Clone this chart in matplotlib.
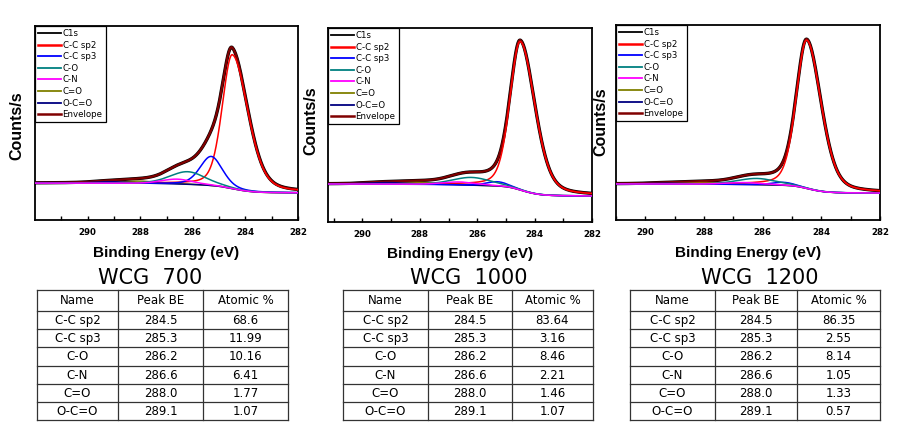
import numpy as np
import matplotlib
matplotlib.use("Agg")
import matplotlib.pyplot as plt
from matplotlib.lines import Line2D

W, H = 901, 432

# ---------------- data ----------------
samples = ["WCG  700", "WCG  1000", "WCG  1200"]
components = ["C-C sp2", "C-C sp3", "C-O", "C-N", "C=O", "O-C=O"]
peak_be = [284.5, 285.3, 286.2, 286.6, 288.0, 289.1]
peak_be_text = ["284.5", "285.3", "286.2", "286.6", "288.0", "289.1"]
atomic_700 = ["68.6", "11.99", "10.16", "6.41", "1.77", "1.07"]
atomic_1000 = ["83.64", "3.16", "8.46", "2.21", "1.46", "1.07"]
atomic_1200 = ["86.35", "2.55", "8.14", "1.05", "1.33", "0.57"]
table_header = ["Name", "Peak BE", "Atomic %"]
legend_labels = ["C1s", "C-C sp2", "C-C sp3", "C-O", "C-N", "C=O", "O-C=O", "Envelope"]
xticks = [290, 288, 286, 284, 282]

# fitted component heights above background (fraction of axis height)
height_700 = [0.69, 0.15, 0.065, 0.025, 0.012, 0.008]
height_1000 = [0.765, 0.022, 0.04, 0.015, 0.01, 0.008]
height_1200 = [0.76, 0.015, 0.032, 0.01, 0.008, 0.005]
# half widths (eV): high-BE side / low-BE side
hw_high_700 = [0.45, 0.5, 0.8, 0.7, 0.8, 0.8]
hw_low_700 = [0.7, 0.5, 0.8, 0.7, 0.8, 0.8]
hw_high_1000 = [0.42, 0.45, 0.8, 0.7, 0.8, 0.8]
hw_low_1000 = [0.6, 0.45, 0.8, 0.7, 0.8, 0.8]
hw_high_1200 = [0.42, 0.45, 0.8, 0.7, 0.8, 0.8]
hw_low_1200 = [0.58, 0.45, 0.8, 0.7, 0.8, 0.8]
bg_high = [0.19, 0.196, 0.185]
bg_low = [0.14, 0.134, 0.138]
xlims = [(292, 282), (291.2, 282), (291, 282)]

heights = [height_700, height_1000, height_1200]
hw_high = [hw_high_700, hw_high_1000, hw_high_1200]
hw_low = [hw_low_700, hw_low_1000, hw_low_1200]
atomics = [atomic_700, atomic_1000, atomic_1200]

colors = ["#000000", "#ff0000", "#0000ff", "#008080", "#ff00ff", "#808000", "#000080", "#800000"]

# ---------------- layout (pixels) ----------------
axes_px = [(35, 298, 26, 220), (328, 592, 28, 222), (616, 880, 25, 220)]
ylabel_px = [(17, 126), (311, 121), (601, 122)]
xlabel_y = [253, 254, 253]
table_px = [(37, 118, 203, 288), (343, 428, 512, 593), (630, 715, 797, 880)]
title_x = [150, 469, 760]

fig = plt.figure(figsize=(W / 100, H / 100), dpi=100)


def pv(x, c, h, wh, wl, eta=0.3):
    w = np.where(x >= c, wh, wl)
    u = (x - c) / w
    return h * ((1 - eta) * np.exp(-np.log(2) * u ** 2) + eta / (1 + u ** 2))


x = np.linspace(281.5, 292.5, 1200)

for i in range(3):
    l, r, t, b = axes_px[i]
    ax = fig.add_axes([l / W, 1 - b / H, (r - l) / W, (b - t) / H])
    comps = [pv(x, peak_be[k], heights[i][k], hw_high[i][k], hw_low[i][k]) for k in range(6)]
    total = np.sum(comps, axis=0)
    cum = np.concatenate([[0], np.cumsum((total[1:] + total[:-1]) / 2 * np.diff(x))])
    bg = bg_low[i] + (bg_high[i] - bg_low[i]) * cum / cum[-1]
    env = bg + total

    ax.plot(x, env, color=colors[0], lw=2.4, zorder=2)
    ax.plot(x, env, color=colors[7], lw=1.6, zorder=3)
    for k in range(6):
        ax.plot(x, bg + comps[k], color=colors[k + 1], lw=1.1, zorder=4 if k < 4 else 3.5)

    ax.set_xlim(*xlims[i])
    ax.set_ylim(0, 1)
    ax.set_yticks([])
    ax.set_xticks(xticks)
    ax.set_xticks(np.arange(283, 292, 2), minor=True)
    ax.tick_params(axis="x", which="both", direction="in", length=3, width=1, pad=6,
                   labelsize=6.2, top=False)
    for lab in ax.get_xticklabels():
        lab.set_fontweight("bold")
    for s in ax.spines.values():
        s.set_linewidth(1.3)

    ax.set_xlabel("Binding Energy (eV)", fontsize=11, fontweight="bold", family="Liberation Sans")
    ax.xaxis.set_label_coords(0.5, -(xlabel_y[i] - b) / (b - t))
    ax.xaxis.label.set_va("center")
    ax.set_ylabel("Counts/s", fontsize=11.5, fontweight="bold", family="Liberation Sans")
    yx, yy = ylabel_px[i]
    ax.yaxis.set_label_coords((yx - l) / (r - l), (b - yy) / (b - t))
    ax.yaxis.label.set_va("center")

    handles = [Line2D([], [], color=c, lw=1.8 if j in (1, 7) else 1.3) for j, c in enumerate(colors)]
    leg = ax.legend(handles, legend_labels, loc="upper left", fontsize=6.2, frameon=True,
                    fancybox=False, framealpha=1, edgecolor="black", borderaxespad=0.0,
                    handlelength=2.7, handletextpad=0.15, labelspacing=0.3, borderpad=0.35)
    leg.get_frame().set_linewidth(0.9)

# ---------------- tables ----------------
tax = fig.add_axes([0, 0, 1, 1])
tax.set_xlim(0, W)
tax.set_ylim(H, 0)
tax.axis("off")

top, head_bot, bot = 290, 311, 420
row_h = (bot - head_bot) / 6
for i in range(3):
    cx = table_px[i]
    tax.text(title_x[i], 278, samples[i], fontsize=15, ha="center", va="center",
             family="DejaVu Sans")
    ys = [top, head_bot] + [head_bot + row_h * (j + 1) for j in range(6)]
    for y in ys:
        tax.plot([cx[0], cx[3]], [y, y], color="#333333", lw=0.9)
    for xx in cx:
        tax.plot([xx, xx], [top, bot], color="#333333", lw=0.9)
    mids = [(cx[j] + cx[j + 1]) / 2 for j in range(3)]
    for j in range(3):
        tax.text(mids[j], (top + head_bot) / 2 + 0.5, table_header[j], fontsize=8.5,
                 ha="center", va="center", family="DejaVu Sans")
    for rr in range(6):
        yc = head_bot + row_h * (rr + 0.5) + 0.5
        vals = [components[rr], peak_be_text[rr], atomics[i][rr]]
        for j in range(3):
            tax.text(mids[j], yc, vals[j], fontsize=8.5, ha="center", va="center",
                     family="DejaVu Sans")

fig.savefig("out.png", dpi=100)
